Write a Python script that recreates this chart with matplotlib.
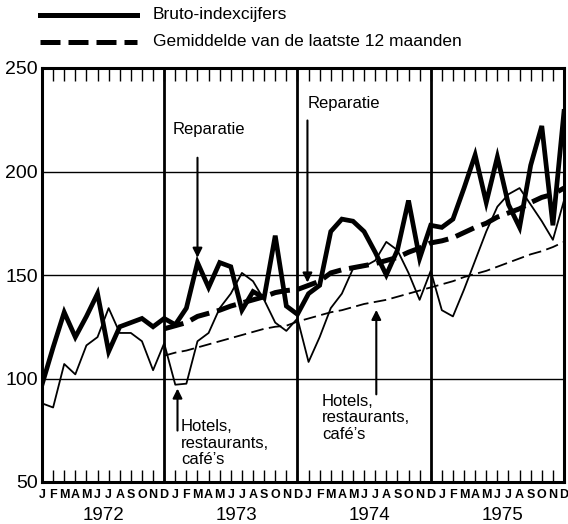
import matplotlib.pyplot as plt
from matplotlib.lines import Line2D
from matplotlib.transforms import ScaledTranslation

plt.rcParams['font.family'] = ['Liberation Sans', 'DejaVu Sans']

# Data: monthly index figures Jan 1972 - Dec 1975
months = list(range(48))
month_letters = ['J', 'F', 'M', 'A', 'M', 'J', 'J', 'A', 'S', 'O', 'N', 'D'] * 4
years = ['1972', '1973', '1974', '1975']

reparatie = [97, 115, 132, 120, 130, 141, 113, 125, 127, 129, 125, 129,
             126, 134, 156, 144, 156, 154, 133, 142, 139, 169, 135, 131,
             141, 145, 171, 177, 176, 171, 161, 150, 162, 186, 158, 174,
             173, 177, 192, 208, 185, 207, 184, 173, 203, 222, 174, 229]
hotels = [88, 86, 107, 102, 116, 120, 134, 122, 122, 118, 104, 117,
          97, 97.5, 118, 122, 134, 141, 151, 147, 138, 127, 123, 129,
          108, 120, 134, 141, 153, 154, 157, 166, 162, 151, 138, 152,
          133, 130, 143, 157, 171, 183, 189, 192, 184, 176, 167, 186]

avg_months = list(range(11, 48))
reparatie_avg = [124, 125.5, 127, 130, 131.5, 133, 135, 136.5, 138, 139.5, 141.5, 142.5,
                 143, 145, 147, 151, 152.5, 153.5, 154.5, 155.5, 157, 158.5, 161, 163,
                 165.5, 166.5, 168, 170.5, 173, 175, 178, 180, 182, 185, 187.5, 189, 192]
hotels_avg = [111, 112.5, 113.5, 115, 116.5, 118, 119.5, 121, 122.5, 124, 125, 125.5,
              127.5, 129, 130.5, 132, 133, 134.5, 136, 137, 138, 139.5, 141, 142.5,
              144, 145.5, 147, 149, 150.5, 152, 154, 156, 158, 160, 161.5, 163.5, 166]

fig = plt.figure(figsize=(5.68, 5.24), dpi=100)
ax = fig.add_axes([42 / 568, 1 - 482 / 524, 522 / 568, 414 / 524])

# grid
for y in [100, 150, 200]:
    ax.axhline(y, color='black', lw=1, zorder=1)
for x in [11, 23, 35]:
    ax.axvline(x, color='black', lw=2, zorder=1)

ax.plot(months, hotels, color='black', lw=1.3, zorder=3)
ax.plot(months, reparatie, color='black', lw=3.4, zorder=4, solid_joinstyle='miter')
ax.plot(avg_months, hotels_avg, color='black', lw=1.3, dashes=(7, 3), zorder=3)
ax.plot(avg_months, reparatie_avg, color='black', lw=3.6, dashes=(4, 1.6), zorder=4)

ax.set_xlim(0, 47)
ax.set_ylim(50, 250)
for s in ax.spines.values():
    s.set_linewidth(2.2)

ax.set_xticks(months)
labels = ax.set_xticklabels(month_letters, fontsize=9, fontweight='bold',
                            family=['Liberation Sans Narrow', 'Liberation Sans'])
labels[-1].set_transform(labels[-1].get_transform() +
                         ScaledTranslation(-1.5 / 72, 0, fig.dpi_scale_trans))
ax.tick_params(axis='x', direction='in', length=9, width=1, top=True, pad=5)
ax.set_yticks([50, 100, 150, 200, 250])
ax.set_yticklabels(['50', '100', '150', '200', '250'], fontsize=14)
ax.tick_params(axis='y', length=0, pad=3)

for k, yr in enumerate(years):
    ax.text(5.5 + 12 * k, -0.08, yr, transform=ax.get_xaxis_transform(),
            ha='center', va='center', fontsize=13.5)

# annotations
arrow = dict(arrowstyle='-|>', color='black', lw=1.5, mutation_scale=14)
ax.text(11.8, 220.5, 'Reparatie', fontsize=12, ha='left', va='center')
ax.annotate('', xy=(14, 157), xytext=(14, 208), arrowprops=arrow)
ax.text(23.9, 233, 'Reparatie', fontsize=12, ha='left', va='center')
ax.annotate('', xy=(23.9, 145), xytext=(23.9, 226), arrowprops=arrow)
ax.text(12.5, 68.8, 'Hotels,\nrestaurants,\ncafé\u2019s', fontsize=12, ha='left', va='center',
        linespacing=1.1)
ax.annotate('', xy=(12.2, 96.5), xytext=(12.2, 73.5), arrowprops=arrow)
ax.text(25.2, 81, 'Hotels,\nrestaurants,\ncafé\u2019s', fontsize=12, ha='left', va='center',
        linespacing=1.1)
ax.annotate('', xy=(30.1, 134.5), xytext=(30.1, 91), arrowprops=arrow)

# legend
fig.add_artist(Line2D([40 / 568, 137 / 568], [1 - 15 / 524] * 2, color='black', lw=3.6,
                      transform=fig.transFigure))
fig.text(153 / 568, 1 - 15 / 524, 'Bruto-indexcijfers', fontsize=12.5, va='center')
fig.add_artist(Line2D([40 / 568, 137 / 568], [1 - 42 / 524] * 2, color='black', lw=3.6,
                      dashes=(4, 1.6), transform=fig.transFigure))
fig.text(153 / 568, 1 - 42 / 524, 'Gemiddelde van de laatste 12 maanden', fontsize=12.5,
         va='center')

fig.savefig('out.png', dpi=100)
